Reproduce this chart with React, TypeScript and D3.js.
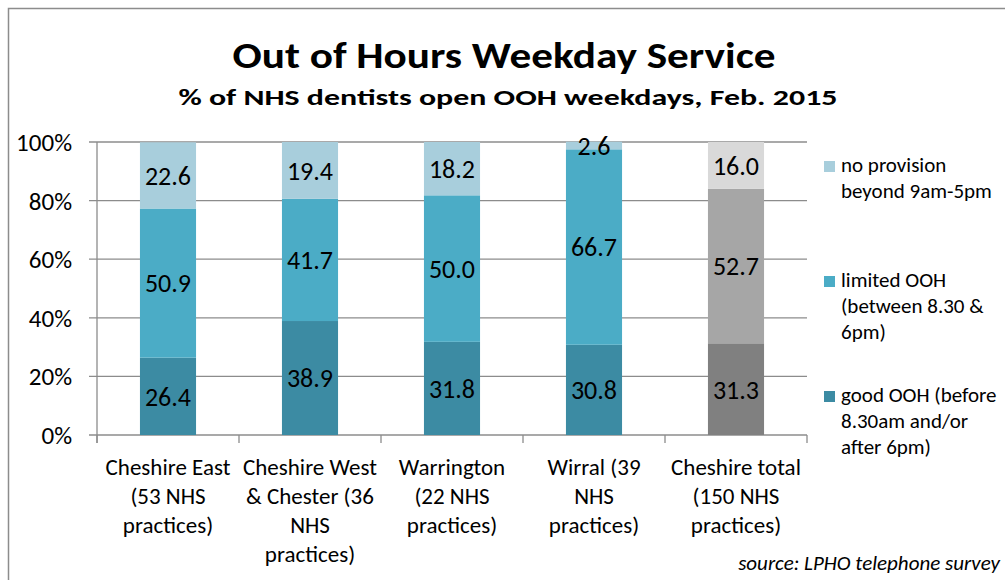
import React from "react";
import * as d3 from "d3";

const categories: string[][] = [
  ["Cheshire East", "(53 NHS", "practices)"],
  ["Cheshire West", "& Chester (36", "NHS", "practices)"],
  ["Warrington", "(22 NHS", "practices)"],
  ["Wirral (39", "NHS", "practices)"],
  ["Cheshire total", "(150 NHS", "practices)"],
];
const goodOOH = [26.4, 38.9, 31.8, 30.8, 31.3];
const limitedOOH = [50.9, 41.7, 50.0, 66.7, 52.7];
const noProvision = [22.6, 19.4, 18.2, 2.6, 16.0];
const yTicks = [0, 20, 40, 60, 80, 100];
const legendItems: string[][] = [
  ["no provision", "beyond 9am-5pm"],
  ["limited OOH", "(between 8.30 &", "6pm)"],
  ["good OOH (before", "8.30am and/or", "after 6pm)"],
];

const blueColors = ["#3C8BA3", "#4BACC6", "#A8CEDC"]; // good, limited, none
const greyColors = ["#808080", "#A6A6A6", "#D9D9D9"];
const FONT = "Carlito, Lato, 'Open Sans', sans-serif";

export default function App() {
  const W = 1005, H = 580;
  const x0 = 97, x1 = 807, yTop = 142, yBot = 435;
  const x = d3.scaleBand<number>().domain(d3.range(categories.length)).range([x0, x1]).paddingInner(0.605).paddingOuter(0.3025);
  const y = d3.scaleLinear().domain([0, 100]).range([yBot, yTop]);
  const series = [goodOOH, limitedOOH, noProvision];
  const band = (x1 - x0) / categories.length;

  const segs: any[] = [];
  categories.forEach((_, i) => {
    let cum = 0;
    series.forEach((s, k) => {
      const v = s[i];
      const isTotal = i === categories.length - 1;
      segs.push({ i, k, y0: cum, y1: cum + v, v, color: (isTotal ? greyColors : blueColors)[k] });
      cum += v;
    });
  });

  const gridColor = "#8C8C8C";
  const legendTop = [166, 281, 396];

  return (
    <svg width={W} height={H} style={{ position: "absolute", left: 0, top: 0, background: "#fff" }} fontFamily={FONT}>
      <rect x={8.5} y={8.5} width={1100} height={700} fill="#fff" stroke="#8C8C8C" strokeWidth={1.5} />
      <text x={504} y={68} textAnchor="middle" fontSize={36} fontWeight="bold" textLength={543} lengthAdjust="spacingAndGlyphs">Out of Hours Weekday Service</text>
      <text x={508} y={105} textAnchor="middle" fontSize={23} fontWeight="bold" textLength={659} lengthAdjust="spacingAndGlyphs">% of NHS dentists open OOH weekdays, Feb. 2015</text>

      {yTicks.map((t) => (
        <g key={t}>
          <line x1={89} x2={x1} y1={y(t)} y2={y(t)} stroke={gridColor} strokeWidth={1.3} />
          <text x={72} y={y(t)} dy="0.36em" textAnchor="end" fontSize={25}>{t}%</text>
        </g>
      ))}
      <line x1={x0} x2={x0} y1={yTop} y2={yBot + 8} stroke={gridColor} strokeWidth={1.3} />
      {d3.range(categories.length + 1).map((j) => (
        <line key={j} x1={x0 + j * band} x2={x0 + j * band} y1={yBot} y2={yBot + 8} stroke={gridColor} strokeWidth={1.3} />
      ))}

      {segs.map((s, idx) => (
        <rect key={idx} x={x(s.i)} width={x.bandwidth()} y={y(s.y1)} height={y(s.y0) - y(s.y1)} fill={s.color} />
      ))}
      {segs.map((s, idx) => (
        <text key={"l" + idx} x={(x(s.i) as number) + x.bandwidth() / 2} y={y((s.y0 + s.y1) / 2)} dy="0.36em" textAnchor="middle" fontSize={26} fill="#000">
          {s.v.toFixed(1)}
        </text>
      ))}

      {categories.map((lines, i) => (
        <text key={"c" + i} textAnchor="middle" fontSize={23}>
          {lines.map((ln, j) => (
            <tspan key={j} x={x0 + band * (i + 0.5)} y={475 + j * 29}>{ln}</tspan>
          ))}
        </text>
      ))}

      {legendItems.map((lines, k) => (
        <g key={"lg" + k}>
          <rect x={824} y={legendTop[k] - 5} width={11} height={11} fill={blueColors[2 - k]} />
          <text fontSize={21}>
            {lines.map((ln, j) => (
              <tspan key={j} x={841} y={legendTop[k] + 6 + j * 26}>{ln}</tspan>
            ))}
          </text>
        </g>
      ))}

      <text x={1000} y={570} textAnchor="end" fontSize={21} fontStyle="italic">source: LPHO telephone survey</text>
    </svg>
  );
}
